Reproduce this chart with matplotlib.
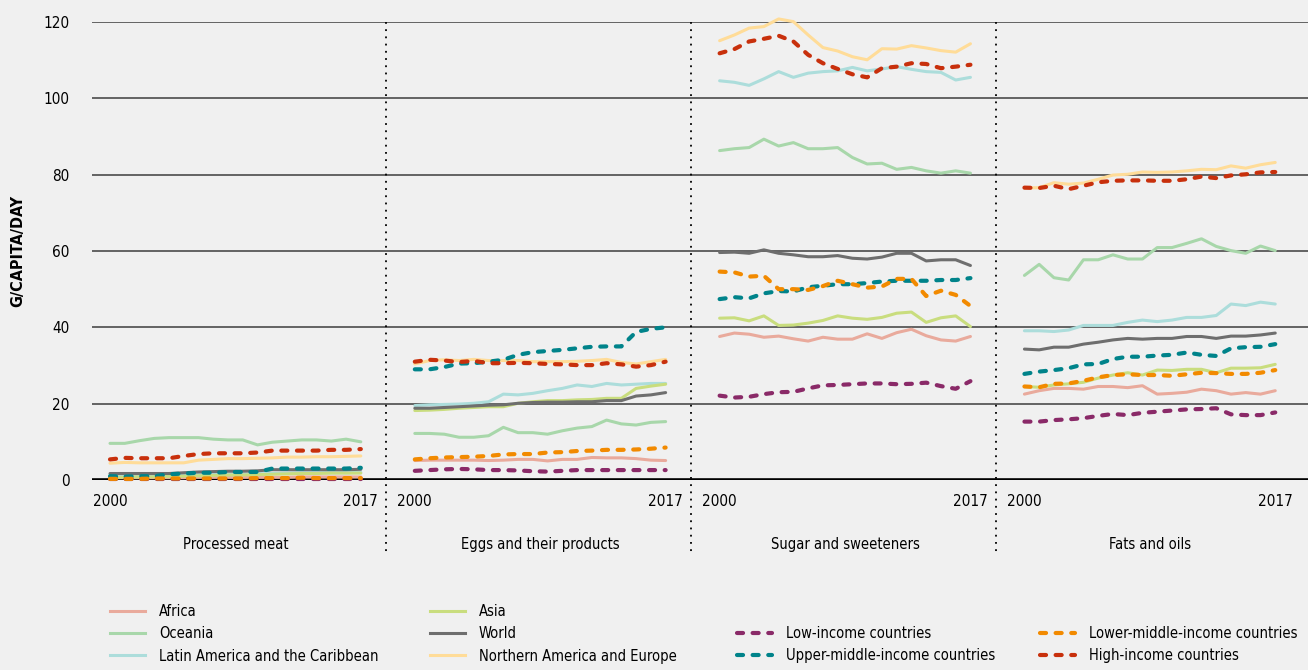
import matplotlib
matplotlib.use("Agg")
import matplotlib.pyplot as plt
import matplotlib.transforms as mtransforms
from matplotlib import font_manager
from matplotlib.lines import Line2D

# years shown on every panel
years = list(range(2000, 2018))
panels = ["Processed meat", "Eggs and their products", "Sugar and sweeteners", "Fats and oils"]

regions = ["Africa", "Oceania", "Latin America and the Caribbean",
           "Asia", "World", "Northern America and Europe"]
incomes = ["Low-income countries", "Upper-middle-income countries",
           "Lower-middle-income countries", "High-income countries"]

# g/capita/day, one dict per panel
processed_meat = {
    "Africa": [0.6, 0.6, 0.6, 0.6, 0.6, 0.6, 0.7, 0.7, 0.7, 0.7, 0.7, 0.7, 0.7, 0.8, 0.8, 0.8, 0.8, 0.8],
    "Oceania": [9.6, 9.6, 10.3, 10.9, 11.1, 11.1, 11.1, 10.7, 10.5, 10.5, 9.2, 9.9, 10.2, 10.5, 10.5, 10.2, 10.7, 10.0],
    "Latin America and the Caribbean": [1.2, 1.2, 1.2, 1.2, 1.3, 1.3, 1.4, 1.4, 1.5, 1.5, 1.6, 1.7, 1.8, 1.9, 1.9, 1.9, 1.9, 2.0],
    "Asia": [0.7, 0.7, 0.8, 0.8, 0.9, 1.0, 1.1, 1.2, 1.3, 1.3, 1.4, 1.5, 1.6, 1.7, 1.7, 1.8, 1.8, 1.8],
    "World": [1.7, 1.7, 1.7, 1.7, 1.7, 1.9, 2.1, 2.2, 2.3, 2.3, 2.4, 2.7, 2.7, 2.7, 2.7, 2.7, 2.7, 2.8],
    "Northern America and Europe": [4.4, 4.6, 4.5, 4.5, 4.5, 4.5, 5.2, 5.4, 5.6, 5.6, 5.7, 5.8, 6.0, 6.0, 6.1, 6.1, 6.2, 6.3],
    "Low-income countries": [0.2, 0.2, 0.2, 0.2, 0.2, 0.2, 0.2, 0.2, 0.2, 0.2, 0.2, 0.2, 0.2, 0.2, 0.2, 0.2, 0.2, 0.2],
    "Upper-middle-income countries": [1.0, 0.9, 1.0, 1.0, 1.5, 1.7, 1.9, 1.9, 2.1, 2.1, 2.1, 3.0, 3.0, 3.0, 3.0, 3.0, 3.0, 3.2],
    "Lower-middle-income countries": [0.3, 0.3, 0.3, 0.4, 0.4, 0.4, 0.4, 0.4, 0.4, 0.4, 0.5, 0.5, 0.5, 0.6, 0.5, 0.5, 0.5, 0.5],
    "High-income countries": [5.4, 5.8, 5.7, 5.7, 5.7, 6.3, 6.8, 7.0, 7.0, 7.0, 7.2, 7.7, 7.7, 7.7, 7.7, 7.9, 7.9, 8.1],
}
eggs = {
    "Africa": [5.1, 5.2, 5.2, 5.2, 5.2, 5.1, 5.2, 5.4, 5.4, 5.0, 5.4, 5.4, 5.9, 5.8, 5.8, 5.6, 5.2, 5.1],
    "Oceania": [12.2, 12.2, 12.0, 11.2, 11.2, 11.6, 13.8, 12.4, 12.4, 12.0, 12.9, 13.6, 14.0, 15.7, 14.7, 14.4, 15.1, 15.3],
    "Latin America and the Caribbean": [19.5, 19.7, 19.8, 19.9, 20.1, 20.5, 22.5, 22.3, 22.7, 23.4, 24.0, 24.9, 24.5, 25.3, 24.9, 25.1, 25.3, 25.3],
    "Asia": [18.2, 18.3, 18.5, 18.8, 19.0, 19.2, 19.2, 20.1, 20.5, 20.8, 20.8, 21.0, 21.1, 21.4, 21.4, 24.0, 24.6, 25.1],
    "World": [18.8, 18.8, 19.0, 19.2, 19.4, 19.6, 19.7, 20.1, 20.3, 20.4, 20.4, 20.5, 20.5, 20.8, 20.8, 22.0, 22.3, 22.9],
    "Northern America and Europe": [30.4, 31.3, 31.5, 31.3, 31.6, 31.3, 31.3, 31.3, 31.0, 31.0, 31.0, 31.1, 31.3, 31.6, 30.8, 30.4, 31.0, 31.6],
    "Low-income countries": [2.4, 2.6, 2.8, 2.9, 2.8, 2.6, 2.6, 2.5, 2.3, 2.2, 2.4, 2.6, 2.6, 2.6, 2.6, 2.6, 2.6, 2.6],
    "Upper-middle-income countries": [29.0, 29.0, 29.6, 30.5, 30.6, 31.0, 31.5, 32.8, 33.5, 33.8, 34.1, 34.5, 34.9, 35.0, 35.0, 38.8, 39.6, 40.0],
    "Lower-middle-income countries": [5.4, 5.7, 5.9, 6.0, 6.1, 6.3, 6.7, 6.8, 6.8, 7.2, 7.3, 7.6, 7.7, 7.9, 7.9, 8.0, 8.2, 8.5],
    "High-income countries": [31.0, 31.5, 31.3, 30.9, 31.2, 30.6, 30.6, 30.7, 30.6, 30.4, 30.3, 30.1, 30.1, 30.6, 30.3, 29.7, 30.1, 31.0],
}
sugar = {
    "Africa": [37.6, 38.5, 38.2, 37.4, 37.7, 37.0, 36.4, 37.4, 36.9, 36.9, 38.3, 37.1, 38.6, 39.5, 37.8, 36.7, 36.4, 37.6],
    "Oceania": [86.3, 86.8, 87.1, 89.3, 87.5, 88.4, 86.8, 86.8, 87.1, 84.5, 82.8, 83.0, 81.4, 81.9, 81.0, 80.4, 81.0, 80.4],
    "Latin America and the Caribbean": [104.6, 104.2, 103.4, 105.1, 107.0, 105.5, 106.6, 107.0, 107.2, 108.1, 107.2, 107.7, 108.3, 107.6, 107.0, 106.8, 104.8, 105.5],
    "Asia": [42.4, 42.5, 41.7, 43.0, 40.5, 40.6, 41.1, 41.8, 43.0, 42.4, 42.1, 42.6, 43.7, 44.0, 41.3, 42.5, 43.0, 40.2],
    "World": [59.6, 59.7, 59.4, 60.3, 59.4, 59.0, 58.5, 58.5, 58.8, 58.1, 57.9, 58.4, 59.4, 59.4, 57.4, 57.7, 57.7, 56.2],
    "Northern America and Europe": [115.1, 116.6, 118.4, 118.8, 120.8, 120.1, 116.6, 113.3, 112.4, 110.9, 110.1, 113.0, 112.9, 113.8, 113.2, 112.5, 112.1, 114.3],
    "Low-income countries": [22.1, 21.6, 21.8, 22.5, 23.0, 23.1, 24.0, 24.8, 24.9, 25.1, 25.3, 25.3, 25.1, 25.2, 25.5, 24.6, 23.9, 25.9],
    "Upper-middle-income countries": [47.4, 47.9, 47.6, 48.9, 49.5, 49.4, 50.5, 50.9, 51.3, 51.3, 51.6, 52.0, 52.2, 52.2, 52.2, 52.4, 52.4, 52.9],
    "Lower-middle-income countries": [54.6, 54.4, 53.3, 53.5, 50.0, 50.0, 49.8, 50.8, 52.2, 51.3, 50.4, 50.7, 52.7, 52.7, 48.2, 49.6, 48.5, 45.6],
    "High-income countries": [111.8, 112.9, 114.9, 115.6, 116.4, 114.9, 111.4, 109.2, 107.7, 106.3, 105.5, 107.9, 108.3, 109.2, 109.0, 107.9, 108.3, 108.8],
}
fats = {
    "Africa": [22.5, 23.4, 24.0, 24.0, 23.8, 24.5, 24.5, 24.2, 24.7, 22.5, 22.7, 23.0, 23.8, 23.4, 22.5, 22.9, 22.5, 23.4],
    "Oceania": [53.6, 56.5, 53.0, 52.4, 57.7, 57.7, 59.0, 57.9, 57.9, 60.9, 60.9, 62.0, 63.2, 61.2, 60.1, 59.4, 61.3, 60.1],
    "Latin America and the Caribbean": [39.1, 39.1, 38.9, 39.3, 40.5, 40.5, 40.5, 41.3, 41.9, 41.5, 41.9, 42.6, 42.6, 43.1, 46.1, 45.7, 46.6, 46.1],
    "Asia": [24.5, 24.3, 24.9, 25.2, 25.6, 26.7, 27.5, 28.1, 27.5, 28.8, 28.7, 29.0, 29.0, 28.1, 29.3, 29.3, 29.4, 30.3],
    "World": [34.3, 34.1, 34.8, 34.8, 35.6, 36.1, 36.7, 37.1, 36.9, 37.1, 37.1, 37.6, 37.6, 37.1, 37.7, 37.7, 38.0, 38.5],
    "Northern America and Europe": [76.5, 76.6, 77.9, 77.5, 77.8, 78.8, 79.9, 80.1, 80.7, 80.6, 80.7, 81.0, 81.4, 81.3, 82.3, 81.7, 82.6, 83.2],
    "Low-income countries": [15.3, 15.3, 15.7, 15.9, 16.2, 16.8, 17.3, 17.0, 17.6, 17.9, 18.2, 18.5, 18.6, 18.8, 17.2, 17.0, 17.0, 17.7],
    "Upper-middle-income countries": [27.8, 28.4, 28.8, 29.3, 30.3, 30.4, 31.7, 32.3, 32.3, 32.6, 32.8, 33.4, 32.8, 32.5, 34.5, 34.8, 34.9, 35.6],
    "Lower-middle-income countries": [24.5, 24.3, 25.2, 25.3, 26.0, 26.9, 27.5, 27.7, 27.5, 27.5, 27.3, 27.7, 28.1, 28.0, 27.8, 27.8, 28.1, 28.8],
    "High-income countries": [76.6, 76.5, 77.1, 76.2, 77.1, 78.0, 78.4, 78.5, 78.5, 78.4, 78.4, 78.8, 79.5, 79.1, 79.8, 80.1, 80.6, 80.7],
}
panel_data = [processed_meat, eggs, sugar, fats]

colors = {
    "Africa": "#e9aa9c",
    "Oceania": "#a8d7aa",
    "Latin America and the Caribbean": "#acdddb",
    "Asia": "#c9dd7e",
    "World": "#6e6e6e",
    "Northern America and Europe": "#ffdc98",
    "Low-income countries": "#8a2a68",
    "Upper-middle-income countries": "#00838a",
    "Lower-middle-income countries": "#f28a00",
    "High-income countries": "#c8300c",
}

BG = "#f0f0f0"

# look for a narrow/condensed sans face; fall back to plain DejaVu Sans
font_name, font_stretch = "DejaVu Sans", "normal"
for f in font_manager.fontManager.ttflist:
    narrow = ("Narrow" in f.name or "Condensed" in f.name
              or str(f.stretch) in ("condensed", "semi-condensed", "extra-condensed", "500", "375", "250"))
    if narrow and "Mono" not in f.name and "Serif" not in f.name:
        font_name, font_stretch = f.name, f.stretch
        break
plt.rcParams["font.family"] = [font_name, "DejaVu Sans"]
plt.rcParams["font.stretch"] = font_stretch
condensed = font_name != "DejaVu Sans" or font_stretch != "normal"
fs = 10.5 if condensed else 9.5

fig = plt.figure(figsize=(13.08, 6.70), dpi=100, facecolor=BG)
ax = fig.add_axes([92 / 1308, 1 - 480 / 670, 1 - 92 / 1308, 458 / 670])
ax.set_facecolor(BG)

step = 20.66  # width of one panel in year units
dash = (1.45, 2.3)

for k, data in enumerate(panel_data):
    xs = [k * step + (y - years[0]) for y in years]
    for name in regions:
        ax.plot(xs, data[name], color=colors[name], lw=2.2, solid_capstyle="round",
                solid_joinstyle="round", clip_on=False, zorder=3)
    for name in incomes:
        ax.plot(xs, data[name], color=colors[name], lw=3.0, dashes=dash,
                dash_capstyle="round", clip_on=False, zorder=4)

ax.set_xlim(-1.22, 81.2)
ax.set_ylim(0, 120)

# horizontal grid and thick baseline
for v in range(20, 121, 20):
    ax.axhline(v, color="#3c3c3c", lw=1.1, zorder=1)
ax.axhline(0, color="black", lw=2.6, zorder=2)

# dotted panel separators
trans = mtransforms.blended_transform_factory(ax.transData, ax.transAxes)
for k in range(1, 4):
    sx = k * step - 1.96
    ax.add_line(Line2D([sx, sx], [1.0, -0.157], transform=trans, color="black",
                       lw=1.3, linestyle=(0, (1, 3)), clip_on=False, zorder=2))

# x labels: first and last year of each panel, panel title below
xt, xl = [], []
for k, title in enumerate(panels):
    xt += [k * step, k * step + 17]
    xl += ["2000", "2017"]
    ax.text(k * step + 8.5, -0.14, title, transform=trans, ha="center", va="center",
            fontsize=fs)
ax.set_xticks(xt)
ax.set_xticklabels(xl, fontsize=fs + 0.5)
ax.set_yticks(range(0, 121, 20))
ax.tick_params(axis="both", length=0)
ax.tick_params(axis="y", pad=16, labelsize=fs + 0.5)
ax.tick_params(axis="x", pad=10)
for s in ax.spines.values():
    s.set_visible(False)

fig.text(18 / 1308, 1 - 251 / 670, "G/CAPITA/DAY", rotation=90, ha="center", va="center",
         fontsize=fs + 1, fontweight="bold")

# legends, one per column so each column sits where the reference has it
legend_cols = [
    (regions[:3], 110, 604, 2.2, None),
    (regions[3:], 430, 604, 2.2, None),
    (incomes[:2], 737, 626, 3.0, dash),
    (incomes[2:], 1040, 626, 3.0, dash),
]
for names, lx, ly, lw, ds in legend_cols:
    if ds is None:
        handles = [Line2D([], [], color=colors[n], lw=lw) for n in names]
    else:
        handles = [Line2D([], [], color=colors[n], lw=lw, dashes=ds, dash_capstyle="round")
                   for n in names]
    fig.legend(handles, names, loc="upper left", bbox_to_anchor=(lx / 1308, 1 - ly / 670),
               frameon=False, fontsize=fs, handlelength=2.4, handletextpad=0.95,
               labelspacing=0.5, borderpad=0, borderaxespad=0)

fig.savefig("out.png", dpi=100, facecolor=BG)
